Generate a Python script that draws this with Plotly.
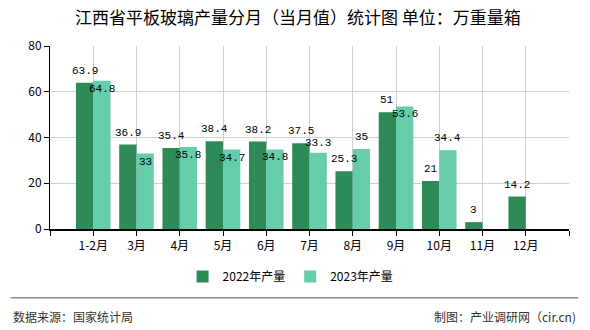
import plotly.graph_objects as go

# Monthly flat-glass output, Jiangxi province (unit: 10k weight cases)
months = ["1-2月", "3月", "4月", "5月", "6月", "7月", "8月", "9月", "10月", "11月", "12月"]
output_2022 = [63.9, 36.9, 35.4, 38.4, 38.2, 37.5, 25.3, 51, 21, 3, 14.2]
output_2023 = [64.8, 33, 35.8, 34.7, 34.8, 33.3, 35, 53.6, 34.4, None, None]
series_names = ["2022年产量", "2023年产量"]

# label placement for the 2023 series: inside the bar top (-) or above it (+), pixels
label_shift_2023 = [-8, -8, -8, -8, -8, 10, 12, -8, 12, 0, 0]
label_shift_2022 = 12

DARK = "#2E8B57"
LIGHT = "#66CDAA"
CJK = "Noto Sans CJK SC"
NUM = "Liberation Mono, Noto Sans CJK SC"

x_idx = list(range(len(months)))

fig = go.Figure()
fig.add_trace(go.Bar(x=x_idx, y=output_2022, name=series_names[0], marker_color=DARK,
                     width=0.4, offset=-0.4, marker_line_width=0))
fig.add_trace(go.Bar(x=x_idx, y=output_2023, name=series_names[1], marker_color=LIGHT,
                     width=0.4, offset=0.0, marker_line_width=0))

annotations = []
for i, v in enumerate(output_2022):
    if v is None:
        continue
    annotations.append(dict(x=i - 0.2, y=v, xref="x", yref="y", text=f"{v:g}",
                            showarrow=False, yanchor="middle", yshift=label_shift_2022,
                            font=dict(family=NUM, size=11, color="#000")))
for i, v in enumerate(output_2023):
    if v is None:
        continue
    annotations.append(dict(x=i + 0.2, y=v, xref="x", yref="y", text=f"{v:g}",
                            showarrow=False, yanchor="middle", yshift=label_shift_2023[i],
                            font=dict(family=NUM, size=11, color="#000")))

# footer texts
annotations.append(dict(x=-0.076, y=-0.476, xref="paper", yref="paper", xanchor="left",
                        yanchor="middle", showarrow=False, text="数据来源：国家统计局",
                        font=dict(family=CJK, size=12, color="#333")))
annotations.append(dict(x=1.018, y=-0.476, xref="paper", yref="paper", xanchor="right",
                        yanchor="middle", showarrow=False, text="制图：产业调研网（cir.cn)",
                        font=dict(family=CJK, size=12, color="#333")))

fig.update_layout(
    width=590, height=330,
    margin=dict(l=50, r=21, t=46, b=101, pad=0),
    paper_bgcolor="white", plot_bgcolor="white",
    title=dict(text="江西省平板玻璃产量分月（当月值）统计图 单位：万重量箱",
               x=0.505, xref="container", xanchor="center",
               y=1 - 18 / 330, yref="container", yanchor="middle",
               font=dict(family=CJK, size=17, color="#000")),
    showlegend=True,
    legend=dict(orientation="h", x=0.4635, y=-0.26, xanchor="center", yanchor="middle",
                font=dict(family=CJK, size=12, color="#000"),
                itemwidth=30, traceorder="normal", bgcolor="rgba(0,0,0,0)"),
    annotations=annotations,
    shapes=[dict(type="line", xref="paper", yref="paper", x0=-0.076, x1=1.018,
                 y0=-0.375, y1=-0.375, line=dict(color="#888", width=1.5))],
    bargap=0.2,
)

fig.update_xaxes(
    range=[-1, len(months)],
    tickmode="array",
    tickvals=[-1] + x_idx + [len(months)],
    ticktext=[""] + months + [""],
    showgrid=True, gridcolor="#d0d0d0", gridwidth=1,
    showline=True, linecolor="#000", linewidth=2,
    ticks="outside", ticklen=5, tickcolor="#000", tickwidth=1,
    tickfont=dict(family=CJK, size=12, color="#000"),
    zeroline=False,
)
fig.update_yaxes(
    range=[0, 80], dtick=20,
    showgrid=True, gridcolor="#d0d0d0", gridwidth=1,
    showline=True, linecolor="#000", linewidth=1,
    ticks="outside", ticklen=5, tickcolor="#000", tickwidth=1,
    tickfont=dict(family=CJK, size=12, color="#000"),
    zeroline=False,
)

fig.write_html("out.html")
